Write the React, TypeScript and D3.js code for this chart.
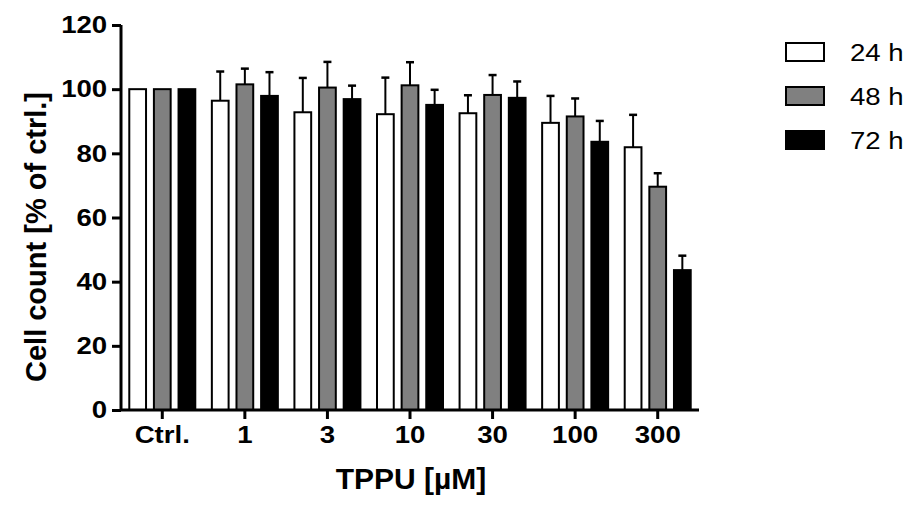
import { useEffect, useRef } from "react"
import * as d3 from "d3"

const categories = ["Ctrl.", "1", "3", "10", "30", "100", "300"]
const series = ["24 h", "48 h", "72 h"]
const fills = ["#ffffff", "#808080", "#000000"]
const yTicks = [0, 20, 40, 60, 80, 100, 120]

// mean values per series, one per category
const mean24 = [100, 96.4, 92.8, 92.2, 92.5, 89.5, 81.9]
const mean48 = [100, 101.5, 100.5, 101.2, 98.2, 91.5, 69.6]
const mean72 = [100, 97.9, 96.9, 95.1, 97.3, 83.6, 43.6]
// upper error (SD)
const err24 = [0, 9.1, 10.7, 11.4, 5.6, 8.4, 10.1]
const err48 = [0, 4.9, 8.0, 7.2, 6.2, 5.6, 4.2]
const err72 = [0, 7.4, 4.2, 4.7, 5.1, 6.5, 4.5]

const W = 915
const H = 505
const font = "'Liberation Sans', Arial, sans-serif"
const stretch = "scale(1.15,1)"

const App = () => {
    const ref = useRef(null)

    useEffect(() => {
        const svg = d3.select(ref.current)
        svg.selectAll("*").remove()

        const means = [mean24, mean48, mean72]
        const errs = [err24, err48, err72]

        const x = d3.scaleBand().domain(categories).range([121, 699]).padding(0)
        const inner = d3.scaleBand().domain(series).range([-33, 33]).paddingInner(0.32)
        const y = d3.scaleLinear().domain([0, 120]).range([410, 25])

        const rows = categories.flatMap((c, i) =>
            series.map((s, j) => ({ c, s, j, v: means[j][i], e: errs[j][i] })))

        const g = svg.append("g")

        g.selectAll("rect.bar")
            .data(rows)
            .enter()
            .append("rect")
            .attr("class", "bar")
            .attr("x", d => x(d.c) + x.bandwidth() / 2 + inner(d.s))
            .attr("width", inner.bandwidth())
            .attr("y", d => y(d.v))
            .attr("height", d => y(0) - y(d.v))
            .attr("fill", d => fills[d.j])
            .attr("stroke", "#000")
            .attr("stroke-width", 2)

        const withErr = rows.filter(d => d.e > 0)
        const cx = d => x(d.c) + x.bandwidth() / 2 + inner(d.s) + inner.bandwidth() / 2

        g.selectAll("line.err")
            .data(withErr)
            .enter()
            .append("line")
            .attr("x1", cx)
            .attr("x2", cx)
            .attr("y1", d => y(d.v))
            .attr("y2", d => y(d.v + d.e))
            .attr("stroke", "#000")
            .attr("stroke-width", 2)

        g.selectAll("line.cap")
            .data(withErr)
            .enter()
            .append("line")
            .attr("x1", d => cx(d) - 4)
            .attr("x2", d => cx(d) + 4)
            .attr("y1", d => y(d.v + d.e))
            .attr("y2", d => y(d.v + d.e))
            .attr("stroke", "#000")
            .attr("stroke-width", 2.5)

        // y axis
        const yAxis = svg.append("g")
            .attr("transform", "translate(121,0)")
            .call(d3.axisLeft(y).tickValues(yTicks).tickSize(9).tickPadding(3))
        yAxis.select(".domain").attr("stroke-width", 3).attr("d", `M0,${y(120)}V${y(0)}`)
        yAxis.selectAll(".tick line").attr("stroke-width", 3)
        yAxis.selectAll("text")
            .attr("font-family", font)
            .attr("font-weight", "bold")
            .attr("font-size", 24)
            .attr("fill", "#000")
            .attr("transform", stretch)

        // x axis
        const xAxis = svg.append("g")
            .attr("transform", "translate(0,410)")
            .call(d3.axisBottom(x).tickSize(9).tickPadding(7))
        xAxis.select(".domain").attr("stroke-width", 3).attr("d", `M120,0H699`)
        xAxis.selectAll(".tick line").attr("stroke-width", 3)
        xAxis.selectAll("text")
            .attr("font-family", font)
            .attr("font-weight", "bold")
            .attr("font-size", 24)
            .attr("fill", "#000")
            .attr("transform", stretch)

        svg.append("text")
            .attr("transform", `translate(46,237) rotate(-90)`)
            .attr("text-anchor", "middle")
            .attr("font-family", font)
            .attr("font-weight", "bold")
            .attr("font-size", 29)
            .text("Cell count [% of ctrl.]")

        svg.append("text")
            .attr("x", 411)
            .attr("y", 489)
            .attr("text-anchor", "middle")
            .attr("font-family", font)
            .attr("font-weight", "bold")
            .attr("font-size", 30)
            .text("TPPU [µM]")

        // legend
        const legend = svg.append("g")
            .selectAll("g")
            .data(series)
            .enter()
            .append("g")
            .attr("transform", (d, i) => `translate(786,${43 + i * 44})`)

        legend.append("rect")
            .attr("width", 38)
            .attr("height", 18)
            .attr("fill", (d, i) => fills[i])
            .attr("stroke", "#000")
            .attr("stroke-width", 2)

        legend.append("text")
            .attr("transform", "translate(64,18) scale(1.15,1)")
            .attr("font-family", font)
            .attr("font-size", 24)
            .text(d => d)
    }, [])

    return (
        <div style={{ position: "absolute", left: 0, top: 0 }}>
            <svg ref={ref} width={W} height={H} style={{ display: "block", background: "#fff" }} />
        </div>
    )
}

export default App
